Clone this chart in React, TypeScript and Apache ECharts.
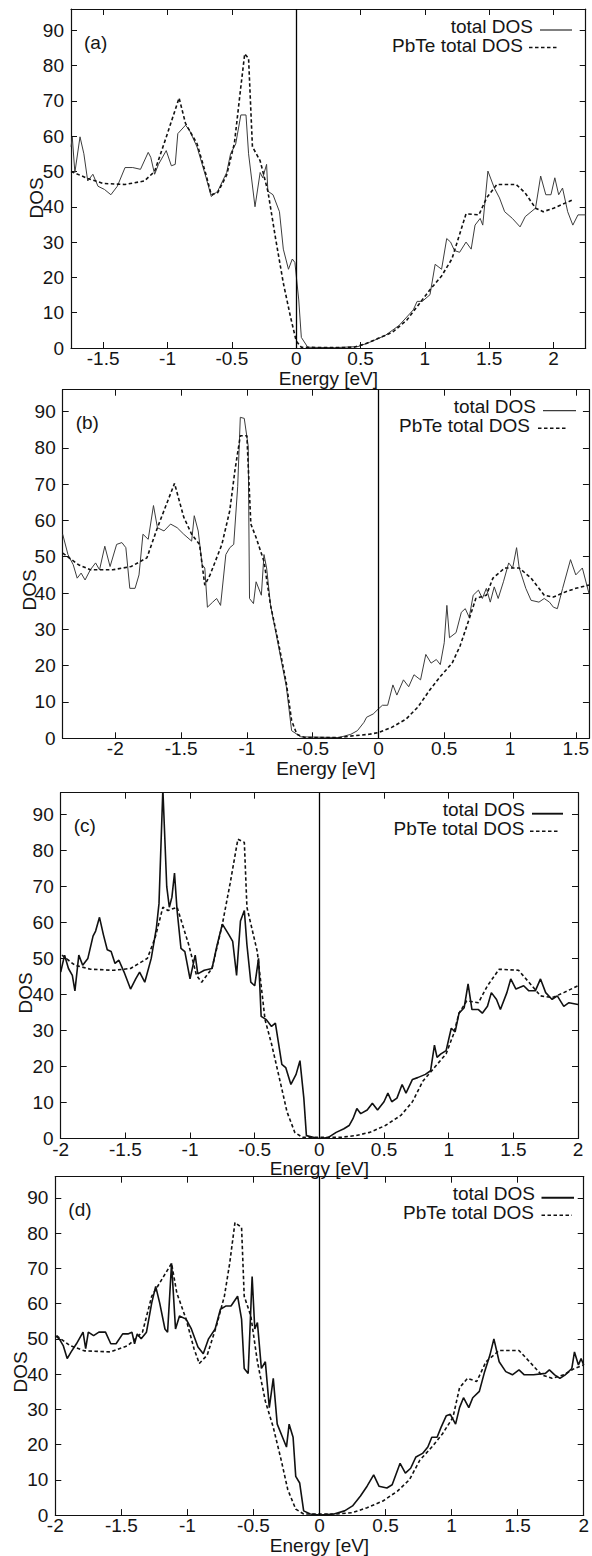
import React, { useEffect, useRef } from "react";
import * as echarts from "echarts";

type Pt = [number, number];

// ---------- Data ----------
const yTickValues = [0, 10, 20, 30, 40, 50, 60, 70, 80, 90];
const panelLabels = ["(a)", "(b)", "(c)", "(d)"];
const xRanges: [number, number][] = [
  [-1.75, 2.25],
  [-2.4, 1.6],
  [-2, 2],
  [-2, 2],
];
const seriesNames = ["total DOS", "PbTe total DOS"];
const axisTitleX = "Energy [eV]";
const axisTitleY = "DOS";

const totalDosA: Pt[] = [
  [-1.75, 57], [-1.74, 59.7], [-1.72, 49.7], [-1.68, 59.8], [-1.65, 55], [-1.62, 47.3], [-1.58, 49.2],
  [-1.54, 45.8], [-1.49, 44.9], [-1.44, 43.4], [-1.39, 45.8], [-1.33, 51.1], [-1.27, 51.1], [-1.21, 50.6],
  [-1.15, 55.4], [-1.13, 54], [-1.1, 49.2], [-1.07, 52], [-1.01, 55.9], [-0.97, 51.6], [-0.94, 52],
  [-0.92, 60.7], [-0.86, 63.1], [-0.83, 61.7], [-0.77, 56.9], [-0.7, 48.2], [-0.66, 42.9], [-0.61, 44.4],
  [-0.54, 49.7], [-0.51, 55], [-0.47, 57.8], [-0.43, 66], [-0.39, 66], [-0.37, 55], [-0.32, 40],
  [-0.28, 49.7], [-0.26, 48.2], [-0.23, 52], [-0.22, 44.4], [-0.18, 43.4], [-0.13, 38.6], [-0.1, 28],
  [-0.06, 22.3], [-0.03, 25.2], [-0.01, 24.2], [0.02, 13.6], [0.04, 3], [0.09, 0.2], [0.3, 0.1],
  [0.48, 0.4], [0.57, 1.6], [0.69, 3.5], [0.8, 6.4], [0.91, 10.8], [0.94, 13.2], [0.98, 13.2],
  [1.04, 15.1], [1.08, 23.7], [1.13, 22.3], [1.17, 31], [1.2, 30], [1.23, 27.6], [1.27, 27.1],
  [1.32, 30], [1.36, 28], [1.39, 34.8], [1.43, 36.7], [1.45, 34.8], [1.49, 50.1], [1.54, 45.3],
  [1.58, 42.5], [1.62, 38.6], [1.68, 36.7], [1.74, 34.3], [1.78, 37.2], [1.86, 39.6], [1.9, 48.7],
  [1.94, 43.4], [1.98, 43.4], [2.01, 48.2], [2.04, 43.4], [2.07, 45.3], [2.11, 38.6], [2.15, 34.8],
  [2.19, 37.7], [2.25, 37.7],
];
const pbteDosA: Pt[] = [
  [-1.75, 50], [-1.62, 48], [-1.5, 46.6], [-1.33, 46.3], [-1.18, 47.3], [-1.1, 50], [-1.01, 59.7],
  [-0.91, 70.8], [-0.86, 63.6], [-0.77, 57.8], [-0.7, 49], [-0.66, 43.4], [-0.61, 44], [-0.54, 49],
  [-0.48, 58], [-0.43, 74], [-0.4, 83.3], [-0.37, 82], [-0.34, 57], [-0.28, 53], [-0.22, 44.4],
  [-0.16, 31], [-0.1, 18.4], [-0.044, 8.8], [0, 2], [0.04, 0.2], [0.3, 0.1], [0.45, 0.2], [0.54, 1.2],
  [0.63, 2.6], [0.75, 4.5], [0.86, 7.9], [0.95, 12.2], [1.04, 16.5], [1.13, 20.4], [1.21, 25.2],
  [1.26, 31], [1.32, 38], [1.42, 37.7], [1.48, 42.5], [1.56, 46.3], [1.71, 46.3], [1.78, 43.9],
  [1.86, 39.6], [1.92, 38.6], [2.0, 39.6], [2.12, 41.5], [2.15, 42],
];

const totalDosB: Pt[] = [
  [-2.4, 56.2], [-2.36, 50.6], [-2.32, 47.8], [-2.29, 44.1], [-2.26, 45.5], [-2.23, 43.6], [-2.19, 46.4],
  [-2.15, 48.3], [-2.12, 46.4], [-2.08, 52.9], [-2.04, 47.3], [-1.99, 53.4], [-1.95, 53.9], [-1.92, 52.5],
  [-1.89, 41.3], [-1.85, 41.3], [-1.82, 45], [-1.79, 56.2], [-1.75, 54.8], [-1.71, 64.1], [-1.68, 58],
  [-1.63, 57.1], [-1.58, 59], [-1.53, 58], [-1.48, 56.2], [-1.42, 54.3], [-1.4, 61.3], [-1.37, 57.1],
  [-1.34, 47.8], [-1.32, 46.9], [-1.3, 36.1], [-1.26, 37.5], [-1.23, 38.5], [-1.2, 36.6], [-1.16, 50.6],
  [-1.13, 52.5], [-1.1, 53.4], [-1.07, 69.3], [-1.05, 88.4], [-1.02, 88.1], [-0.99, 80.5], [-0.98, 38.5],
  [-0.95, 37.1], [-0.93, 43.1], [-0.89, 39.4], [-0.87, 50.6], [-0.85, 46.9], [-0.82, 36.6], [-0.76, 25.4],
  [-0.7, 14.2], [-0.66, 2.1], [-0.59, 0.4], [-0.3, 0.2], [-0.21, 1.1], [-0.16, 2.1], [-0.11, 4.4],
  [-0.09, 5.8], [-0.04, 6.7], [0, 8.1], [0.03, 9.1], [0.07, 9.1], [0.11, 14.7], [0.14, 11.9],
  [0.19, 16.1], [0.23, 14.2], [0.27, 17.5], [0.32, 16.1], [0.36, 23.1], [0.4, 20.7], [0.44, 21.7],
  [0.47, 20.3], [0.5, 26.3], [0.52, 36.6], [0.54, 27.7], [0.59, 29.1], [0.63, 34.7], [0.66, 35.7],
  [0.69, 33.3], [0.72, 39.4], [0.76, 40.8], [0.79, 38.5], [0.82, 41.3], [0.85, 37.5], [0.88, 41.7],
  [0.91, 38.5], [0.95, 43.1], [0.99, 48.3], [1.02, 46.9], [1.05, 52.5], [1.07, 46.9], [1.12, 41.3],
  [1.16, 38], [1.22, 37.5], [1.26, 38.5], [1.3, 37.5], [1.33, 36.1], [1.36, 35.7], [1.4, 41.3],
  [1.46, 49.2], [1.5, 45], [1.55, 46.9], [1.6, 39.9],
];
const pbteDosB: Pt[] = [
  [-2.4, 51], [-2.28, 47.8], [-2.19, 46.4], [-2.02, 46.4], [-1.88, 47.3], [-1.76, 49.7], [-1.68, 58],
  [-1.55, 70.2], [-1.48, 60.9], [-1.42, 56.2], [-1.36, 53.4], [-1.32, 42.2], [-1.28, 45], [-1.19, 53.4],
  [-1.13, 62.7], [-1.09, 74], [-1.05, 83.3], [-1.0, 83.3], [-0.97, 59], [-0.93, 55.3], [-0.87, 48.7],
  [-0.82, 36.6], [-0.76, 26.3], [-0.7, 15.1], [-0.66, 4.9], [-0.62, 1.1], [-0.56, 0.2], [-0.3, 0.2],
  [-0.19, 0.7], [-0.07, 1.1], [0, 1.6], [0.1, 3], [0.21, 5.3], [0.3, 8.6], [0.39, 13.3], [0.47, 17],
  [0.56, 20.7], [0.62, 25.4], [0.69, 32.9], [0.74, 38.5], [0.82, 39.4], [0.87, 44.1], [0.96, 46.9],
  [1.07, 46.9], [1.16, 44.1], [1.26, 39.4], [1.33, 38.9], [1.42, 40.3], [1.5, 41.3], [1.6, 42.2],
];

const totalDosC: Pt[] = [
  [-2.0, 46.2], [-1.97, 50.9], [-1.94, 47.2], [-1.91, 45.3], [-1.89, 41], [-1.86, 50.9], [-1.83, 48.1],
  [-1.79, 50], [-1.75, 56.2], [-1.73, 57.6], [-1.7, 61.4], [-1.67, 56.6], [-1.64, 52.4], [-1.61, 51.9],
  [-1.58, 48.6], [-1.55, 49.5], [-1.51, 46.2], [-1.46, 41.5], [-1.42, 44.3], [-1.39, 46.2], [-1.35, 43.4],
  [-1.3, 50], [-1.26, 58.5], [-1.24, 65.2], [-1.21, 97], [-1.18, 69.9], [-1.16, 64.2], [-1.14, 67],
  [-1.12, 73.7], [-1.1, 63.3], [-1.07, 52.8], [-1.04, 51.9], [-1.0, 44.3], [-0.96, 50.9], [-0.94, 45.7],
  [-0.89, 46.7], [-0.83, 47.2], [-0.79, 53.8], [-0.75, 59.5], [-0.7, 56.6], [-0.67, 54.7], [-0.64, 45.3],
  [-0.61, 60.4], [-0.58, 63.3], [-0.56, 53.8], [-0.53, 43.4], [-0.5, 42.4], [-0.47, 50], [-0.45, 33.9],
  [-0.41, 33], [-0.37, 31.1], [-0.34, 32], [-0.29, 20.6], [-0.26, 19.7], [-0.22, 15], [-0.18, 17.8],
  [-0.15, 21.6], [-0.12, 11.2], [-0.1, 0.8], [-0.04, 0.3], [0, 0], [0.07, 0.3], [0.13, 1.7], [0.19, 2.7],
  [0.23, 3.6], [0.26, 5.5], [0.29, 8.3], [0.32, 6.9], [0.37, 7.9], [0.41, 9.8], [0.45, 7.9], [0.5, 10.2],
  [0.53, 12.6], [0.56, 10.2], [0.6, 11.2], [0.64, 15], [0.67, 12.6], [0.72, 16.4], [0.76, 16.9],
  [0.82, 17.8], [0.86, 18.8], [0.89, 25.9], [0.91, 22.5], [0.94, 23.5], [0.98, 24.4], [1.02, 30.6],
  [1.05, 29.6], [1.08, 34.8], [1.12, 36.3], [1.15, 42.9], [1.18, 35.8], [1.23, 35.8], [1.26, 34.8],
  [1.3, 36.7], [1.33, 40.5], [1.37, 38.6], [1.4, 35.8], [1.45, 40.5], [1.48, 44.3], [1.52, 41.5],
  [1.58, 42.4], [1.62, 41], [1.67, 41], [1.71, 44.3], [1.75, 40.5], [1.8, 38.6], [1.84, 39.6],
  [1.89, 36.7], [1.93, 37.7], [2.0, 37.2],
];
const pbteDosC: Pt[] = [
  [-1.99, 50.9], [-1.89, 48.1], [-1.77, 47], [-1.59, 46.7], [-1.46, 47.2], [-1.33, 50], [-1.27, 55.7],
  [-1.21, 64.2], [-1.17, 63.3], [-1.1, 64.2], [-1.01, 53.8], [-0.95, 45.3], [-0.91, 43.4], [-0.83, 47.2],
  [-0.75, 59.5], [-0.69, 70.8], [-0.63, 83.1], [-0.58, 82.2], [-0.56, 64.2], [-0.48, 51.9], [-0.42, 33],
  [-0.37, 26.3], [-0.31, 16.9], [-0.25, 7.4], [-0.19, 1.7], [-0.13, 0.3], [0.16, 0.3], [0.28, 0.8],
  [0.39, 1.7], [0.51, 3.6], [0.63, 6.4], [0.72, 10.2], [0.8, 15.9], [0.89, 19.7], [0.98, 23.5],
  [1.04, 29.2], [1.08, 34.8], [1.14, 38.2], [1.23, 37.7], [1.3, 42.4], [1.39, 47], [1.54, 46.7],
  [1.62, 43.4], [1.71, 39.6], [1.8, 39.1], [1.89, 40.5], [2.0, 42.4],
];

const totalDosD: Pt[] = [
  [-2.0, 50.9], [-1.97, 50], [-1.94, 48.1], [-1.91, 44.4], [-1.88, 46.3], [-1.84, 48.6], [-1.79, 51.9],
  [-1.77, 47.2], [-1.75, 51.9], [-1.71, 50.9], [-1.67, 51.9], [-1.62, 51.9], [-1.58, 48.6], [-1.54, 48.6],
  [-1.49, 51.4], [-1.45, 51.4], [-1.42, 51.9], [-1.4, 48.6], [-1.38, 51.4], [-1.35, 50], [-1.31, 51.9],
  [-1.27, 60.2], [-1.24, 64.9], [-1.21, 60.2], [-1.17, 52.8], [-1.15, 51.9], [-1.12, 71.4], [-1.09, 52.8],
  [-1.06, 56.5], [-1.01, 55.6], [-0.97, 52.8], [-0.92, 47.7], [-0.88, 45.8], [-0.84, 50], [-0.79, 52.8],
  [-0.75, 58.4], [-0.71, 59.3], [-0.67, 59.3], [-0.62, 62.1], [-0.59, 55.6], [-0.57, 41.6], [-0.54, 40.2],
  [-0.51, 67.7], [-0.49, 52.8], [-0.47, 54.6], [-0.44, 41.6], [-0.41, 43.5], [-0.38, 30.5], [-0.35, 38.8],
  [-0.32, 25.8], [-0.28, 22.1], [-0.25, 19.3], [-0.23, 25.8], [-0.2, 22.1], [-0.18, 11], [-0.15, 9.1],
  [-0.12, 1.2], [-0.07, 0.3], [0, 0], [0.11, 0.3], [0.19, 1.2], [0.25, 2.6], [0.31, 5.4], [0.36, 8.2],
  [0.41, 11.4], [0.45, 8.2], [0.51, 7.7], [0.55, 8.6], [0.61, 14.7], [0.65, 11.9], [0.69, 13.3],
  [0.73, 16.5], [0.78, 17.5], [0.82, 19.3], [0.85, 22.1], [0.89, 22.1], [0.92, 24.9], [0.96, 28.2],
  [0.99, 28.6], [1.03, 25.8], [1.06, 30.5], [1.09, 33.3], [1.13, 30.5], [1.16, 33.3], [1.21, 35.1],
  [1.25, 40.7], [1.29, 45.4], [1.32, 50], [1.36, 43.5], [1.41, 40.7], [1.46, 39.8], [1.51, 41.2],
  [1.55, 39.8], [1.62, 39.8], [1.71, 40.2], [1.74, 41.2], [1.78, 39.8], [1.82, 38.8], [1.86, 39.8],
  [1.91, 41.6], [1.93, 46.3], [1.96, 42.6], [1.98, 44.4], [2.0, 42.6],
];
const pbteDosD: Pt[] = [
  [-1.99, 50.9], [-1.89, 48.1], [-1.78, 46.6], [-1.58, 46.3], [-1.45, 48.1], [-1.34, 51.9], [-1.27, 62.1],
  [-1.18, 67.7], [-1.12, 71.4], [-1.08, 63], [-1.01, 55.6], [-0.95, 47.2], [-0.91, 43], [-0.85, 45.4],
  [-0.78, 53.7], [-0.72, 62.1], [-0.68, 71.4], [-0.64, 83], [-0.59, 81.6], [-0.57, 62.1], [-0.52, 56.5],
  [-0.47, 43.5], [-0.41, 32.3], [-0.35, 24.9], [-0.29, 15.6], [-0.24, 7.2], [-0.18, 1.7], [-0.12, 0.3],
  [0.13, 0.3], [0.25, 0.7], [0.36, 2.1], [0.48, 4], [0.59, 6.8], [0.68, 10], [0.76, 15.6], [0.85, 19.3],
  [0.93, 23], [1.01, 27.7], [1.06, 36.1], [1.12, 38.8], [1.19, 37.9], [1.26, 43.5], [1.36, 46.7],
  [1.51, 46.7], [1.59, 43.5], [1.68, 39.8], [1.76, 38.8], [1.85, 39.8], [1.93, 41.6], [2.0, 42.6],
];

const totalSets = [totalDosA, totalDosB, totalDosC, totalDosD];
const pbteSets = [pbteDosA, pbteDosB, pbteDosC, pbteDosD];

// ---------- Layout / style ----------
const FONT = "'Liberation Sans', Arial, Helvetica, sans-serif";
const FS = 19;
const TXT = "#151515";
const FRAME = "#111";

const grids = [
  { left: 71, top: 9, width: 514.7, height: 339 },
  { left: 62.7, top: 389.7, width: 526.3, height: 348.6 },
  { left: 60.7, top: 792.7, width: 517.3, height: 345.8 },
  { left: 55.3, top: 1176.7, width: 533.7, height: 341.8 },
];
const solidStyles = [
  { color: "#3c3c3c", width: 1 },
  { color: "#3c3c3c", width: 1 },
  { color: "#111", width: 1.6 },
  { color: "#111", width: 1.6 },
];
const legendGeom = [
  { t1: 533, l1: [540, 572], t2: 523, l2: [529, 558] },
  { t1: 536, l1: [543, 576], t2: 530, l2: [538, 568] },
  { t1: 525, l1: [532, 563], t2: 524.5, l2: [530, 560] },
  { t1: 535, l1: [541.5, 574], t2: 534, l2: [541.5, 572] },
];
const dosLabelPos = [
  { x: 36, y: 198 },
  { x: 29, y: 590 },
  { x: 25, y: 993 },
  { x: 20, y: 1372 },
];

function fmtX(v: number): string {
  if (Math.abs(v * 2 - Math.round(v * 2)) > 1e-6) return "";
  return String(Math.round(v * 10) / 10);
}
function fmtY(v: number): string {
  return yTickValues.includes(Math.round(v)) && Math.abs(v - Math.round(v)) < 1e-6 ? String(Math.round(v)) : "";
}

function buildOption() {
  const xAxis: any[] = [];
  const yAxis: any[] = [];
  const series: any[] = [];
  const graphic: any[] = [];
  const axisLine = { show: true, onZero: false, lineStyle: { color: FRAME, width: 1.2 } };
  const axisTick = { show: true, inside: true, length: 6, lineStyle: { color: FRAME, width: 1 } };

  grids.forEach((g, i) => {
    const [xmin, xmax] = xRanges[i];
    xAxis.push({
      gridIndex: i, type: "value", position: "bottom", min: xmin, max: xmax, splitNumber: 8,
      axisLine, axisTick, splitLine: { show: false },
      axisLabel: { formatter: fmtX, fontSize: FS, color: TXT, fontFamily: FONT, margin: 1 },
      name: axisTitleX, nameLocation: "middle", nameGap: 18,
      nameTextStyle: { fontSize: FS, color: TXT, fontFamily: FONT },
    });
    xAxis.push({
      gridIndex: i, type: "value", position: "top", min: xmin, max: xmax, splitNumber: 8,
      axisLine, axisTick, splitLine: { show: false }, axisLabel: { show: false },
    });
    yAxis.push({
      gridIndex: i, type: "value", position: "left", min: 0, max: 96, interval: 10,
      axisLine, axisTick, splitLine: { show: false },
      axisLabel: { formatter: fmtY, fontSize: FS, color: TXT, fontFamily: FONT, margin: 7 },
    });
    yAxis.push({
      gridIndex: i, type: "value", position: "right", min: 0, max: 96, interval: 10,
      axisLine, axisTick, splitLine: { show: false }, axisLabel: { show: false },
    });

    series.push({
      type: "line", name: seriesNames[0], xAxisIndex: 2 * i, yAxisIndex: 2 * i,
      data: totalSets[i], symbol: "none", showSymbol: false, z: 3,
      lineStyle: { color: solidStyles[i].color, width: solidStyles[i].width },
      markLine: {
        silent: true, symbol: ["none", "none"], label: { show: false },
        lineStyle: { color: "#000", type: "solid", width: 1.3 },
        data: [{ xAxis: 0 }],
      },
    });
    series.push({
      type: "line", name: seriesNames[1], xAxisIndex: 2 * i, yAxisIndex: 2 * i,
      data: pbteSets[i], symbol: "none", showSymbol: false, z: 4,
      lineStyle: { color: "#111", width: 1.6, type: [3.5, 2.5] },
    });

    const lg = legendGeom[i];
    const r1 = g.top + 17;
    const r2 = g.top + 36;
    graphic.push(
      { type: "text", x: g.left + 13, y: g.top + 33, style: { text: panelLabels[i], font: `${FS}px ${FONT}`, fill: TXT, align: "left", verticalAlign: "middle" } },
      { type: "text", x: dosLabelPos[i].x, y: dosLabelPos[i].y, rotation: Math.PI / 2, style: { text: axisTitleY, font: `${FS}px ${FONT}`, fill: TXT, align: "center", verticalAlign: "middle" } },
      { type: "text", x: lg.t1, y: r1, style: { text: seriesNames[0], font: `${FS}px ${FONT}`, fill: TXT, align: "right", verticalAlign: "middle" } },
      { type: "line", shape: { x1: lg.l1[0], y1: r1 + 4, x2: lg.l1[1], y2: r1 + 4 }, style: { stroke: solidStyles[i].color, lineWidth: solidStyles[i].width + 0.3 } },
      { type: "text", x: lg.t2, y: r2, style: { text: seriesNames[1], font: `${FS}px ${FONT}`, fill: TXT, align: "right", verticalAlign: "middle" } },
      { type: "line", shape: { x1: lg.l2[0], y1: r2 + 2.5, x2: lg.l2[1], y2: r2 + 2.5 }, style: { stroke: "#111", lineWidth: 1.6, lineDash: [3.5, 2.5] } },
    );
  });

  return {
    animation: false,
    backgroundColor: "#ffffff",
    grid: grids.map((g) => ({ ...g, containLabel: false })),
    xAxis,
    yAxis,
    series,
    graphic,
  };
}

export default function App() {
  const ref = useRef<HTMLDivElement>(null);
  useEffect(() => {
    document.body.style.margin = "0";
    if (!ref.current) return;
    const chart = echarts.init(ref.current, undefined, { renderer: "svg" });
    chart.setOption(buildOption() as any);
    return () => chart.dispose();
  }, []);
  return <div ref={ref} style={{ position: "absolute", left: 0, top: 0, width: 592, height: 1556, background: "#fff" }} />;
}
